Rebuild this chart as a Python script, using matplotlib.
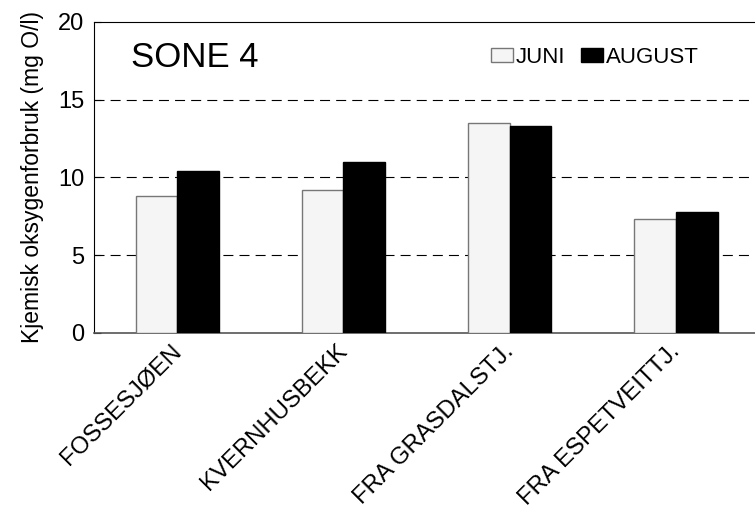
import numpy as np
import matplotlib.pyplot as plt
import matplotlib.transforms as mtransforms

plt.rcParams['font.family'] = ['Liberation Sans', 'DejaVu Sans']

# Data
stations = ['FOSSESJØEN', 'KVERNHUSBEKK', 'FRA GRASDALSTJ.', 'FRA ESPETVEITTJ.']
juni = [8.8, 9.2, 13.5, 7.3]
august = [10.4, 11.0, 13.3, 7.8]

fig = plt.figure(figsize=(7.55, 5.09), dpi=100)
ax = fig.add_axes([0.1245, 0.3458, 0.881, 0.611])

x = np.arange(len(stations))
w = 0.25
ax.bar(x - w/2, juni, w, color='#f5f5f5', edgecolor='#777777', linewidth=1, label='JUNI', zorder=3)
ax.bar(x + w/2, august, w, color='black', edgecolor='black', linewidth=1, label='AUGUST', zorder=3)

# dashed grid lines
for yv in [5, 10, 15]:
    ax.axhline(yv, color='black', linestyle=(0, (9, 5.5)), linewidth=0.8, zorder=1)

ax.set_xlim(-0.5, 3.5)
ax.set_ylim(0, 20)
ax.set_yticks([0, 5, 10, 15, 20])
ax.tick_params(axis='y', direction='in', length=5, labelsize=17, pad=7)
ax.tick_params(axis='x', length=0, labelsize=17.2, pad=5)
ax.set_xticks(x)
ax.set_xticklabels(stations, rotation=45, ha='right', rotation_mode='anchor')
# nudge the rotated labels a little to the left
shift = mtransforms.ScaledTranslation(-7/100, 0, fig.dpi_scale_trans)
for lbl in ax.get_xticklabels():
    lbl.set_transform(lbl.get_transform() + shift)
ax.spines['right'].set_visible(False)
ax.spines['bottom'].set_color('#555555')
ax.spines['bottom'].set_linewidth(1.2)

ax.set_ylabel('Kjemisk oksygenforbruk (mg O/l)', fontsize=16.5, labelpad=10)
ax.text(0.056, 0.887, 'SONE 4', transform=ax.transAxes, fontsize=25, va='center')

ax.legend(loc='center left', bbox_to_anchor=(0.597, 0.885), ncol=2, frameon=False,
          fontsize=16, handlelength=1.0, handleheight=0.6, handletextpad=0.12,
          columnspacing=0.7, borderpad=0, borderaxespad=0)

fig.savefig('out.png', dpi=100)
